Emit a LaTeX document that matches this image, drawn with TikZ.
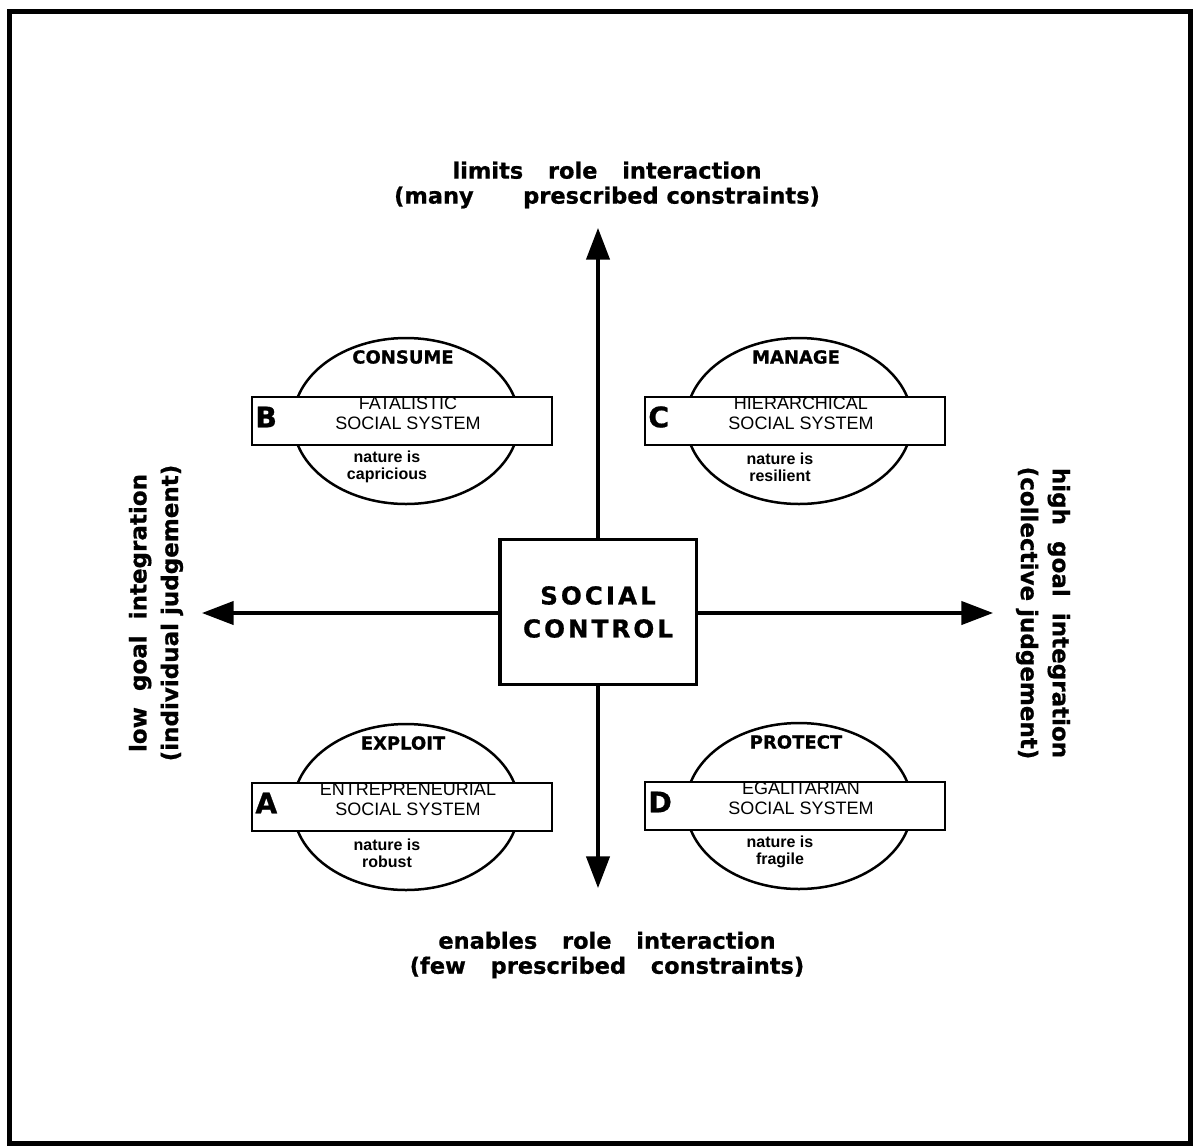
\documentclass[tikz,border=0pt]{standalone}
\usepackage{fontspec}
\setmainfont{Liberation Sans}
\newfontfamily\heavyfont[FakeBold=0.8]{DejaVu Sans Bold}
\newfontfamily\spacedfont[LetterSpace=12, FakeBold=0.8]{DejaVu Sans Bold}
\usetikzlibrary{arrows.meta,shapes.geometric}
\newcommand\gap{\hspace{1.1em}}
\newcommand\sidegap{\hspace{0.7em}}

\begin{document}
\begin{tikzpicture}[x=0.6pt, y=-0.6pt,
  axis/.style={line width=1.9pt, -{Triangle[length=19pt, width=14pt]}},
  heading/.style={align=center, font=\heavyfont\fontsize{13.5}{15}\selectfont},
  sidehead/.style={align=center, font=\heavyfont\fontsize{13.8}{19}\selectfont},
  oval/.style={draw, line width=1.5pt, ellipse, minimum width=135.6pt, minimum height=99.6pt},
  sysbox/.style={draw, fill=white, line width=1.5pt, minimum width=180pt, minimum height=28.8pt},
  act/.style={font=\heavyfont\fontsize{10.8}{12}\selectfont},
  kind/.style={align=center, font=\fontsize{10.8}{12}\selectfont},
  trait/.style={align=center, font=\bfseries\fontsize{9.6}{10.2}\selectfont},
  tag/.style={anchor=west, inner sep=0pt, font=\heavyfont\fontsize{17}{17}\selectfont}]
  \useasboundingbox (0,0) rectangle (1198,1146);
  \draw[line width=3pt] (9,11) rectangle (1190,1143);

  \node (ctrl) at (598,612) [draw, line width=2.2pt, minimum width=118pt, minimum height=87pt,
    align=center, font=\spacedfont\fontsize{14.8}{19.8}\selectfont] {SOCIAL\\CONTROL};
  \coordinate (uptip) at (598,228);
  \coordinate (downtip) at (598,888);
  \coordinate (lefttip) at (202,613);
  \coordinate (righttip) at (993,613);
  \draw[axis] (ctrl.north) -- (uptip);
  \draw[axis] (ctrl.south) -- (downtip);
  \draw[axis] (ctrl.west |- lefttip) -- (lefttip);
  \draw[axis] (ctrl.east |- righttip) -- (righttip);

  \node (limits) at (607,185) [heading] {limits\gap role\gap interaction\\(many\hspace{2.2em}prescribed constraints)};
  \node (enables) at (607,955) [heading] {enables\gap role\gap interaction\\(few\gap prescribed\gap constraints)};
  \node (lowgoal) at (156,613) [sidehead, rotate=90] {low\sidegap goal\sidegap integration\\(individual judgement)};
  \node (highgoal) at (1043,613) [sidehead, rotate=-90] {high\sidegap goal\sidegap integration\\(collective judgement)};

  \foreach \q/\cx/\cy/\action/\kindname/\traitname in {
    B/402/421/CONSUME/FATALISTIC/capricious,
    C/795/421/MANAGE/HIERARCHICAL/resilient,
    A/402/807/EXPLOIT/ENTREPRENEURIAL/robust,
    D/795/806/PROTECT/EGALITARIAN/fragile}
  {
    \node (oval\q) at (\cx+4,\cy) [oval] {};
    \node (box\q) at (\cx,\cy) [sysbox] {};
    \node (act\q) at (\cx+1,\cy-64) [act] {\action};
    \node (kind\q) at (\cx+6,\cy-8) [kind] {\kindname\\SOCIAL SYSTEM};
    \node (trait\q) at (\cx-15,\cy+46) [trait] {nature is\\\traitname};
    \node (tag\q) at (\cx-147,\cy-4) [tag] {\q};
  }
\end{tikzpicture}
\end{document}
